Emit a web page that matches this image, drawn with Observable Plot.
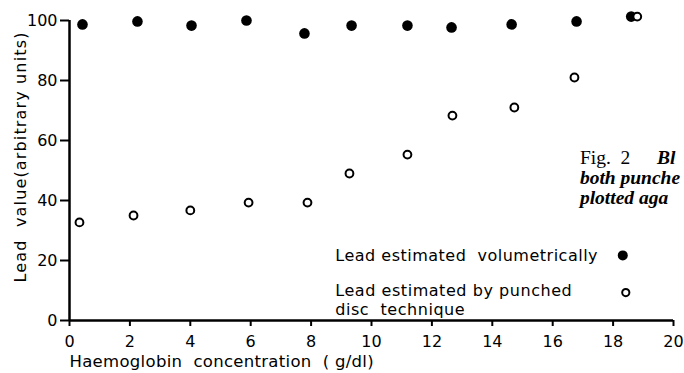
<!DOCTYPE html>
<html>
<head>
<meta charset="utf-8">
<script src="https://cdn.jsdelivr.net/npm/d3@7"></script>
<script src="https://cdn.jsdelivr.net/npm/@observablehq/plot@0.6"></script>
<style>
  html, body { margin: 0; padding: 0; background: #fff; overflow: hidden; }
  #chart { width: 684px; height: 373px; overflow: hidden; }
</style>
</head>
<body>
<div id="chart"></div>
<script>
// Haemoglobin concentration (g/dl)
const volumetricX = [0.43, 2.25, 4.04, 5.86, 7.78, 9.34, 11.19, 12.65, 14.64, 16.79, 18.6];
const volumetricY = [98.7, 99.7, 98.3, 100.0, 95.7, 98.3, 98.3, 97.7, 98.7, 99.7, 101.3];
const punchedX = [0.33, 2.12, 4.0, 5.93, 7.88, 9.27, 11.19, 12.68, 14.73, 16.72, 18.8];
const punchedY = [32.7, 35.0, 36.7, 39.3, 39.3, 49.0, 55.3, 68.3, 71.0, 81.0, 101.3];

const xTicks = [0, 2, 4, 6, 8, 10, 12, 14, 16, 18, 20];
const yTicks = [0, 20, 40, 60, 80, 100];

const NB = "\u00a0";
const xTitle = "Haemoglobin" + NB + " concentration" + NB + " (" + NB + "g/dl)";
const yTitle = "Lead" + NB + " value(arbitrary" + NB + "units)";

const legendLabels = [
  "Lead estimated" + NB + " volumetrically",
  "Lead estimated by punched\ndisc" + NB + " technique"
];
const captionHead = "Fig." + NB + NB + "2";
const captionHeadItalic = "Bl";
const captionBody = "both punche\nplotted aga";

const volumetric = volumetricX.map((x, i) => ({x, y: volumetricY[i]}));
const punched = punchedX.map((x, i) => ({x, y: punchedY[i]}));

const sans = "'DejaVu Sans', sans-serif";
const serif = "'Liberation Serif', 'DejaVu Serif', serif";

const legendText = [
  {x: 8.8, y: 21.7, t: legendLabels[0]},
  {x: 8.8, y: 7.0, t: legendLabels[1]}
];

const chart = Plot.plot({
  width: 684,
  height: 373,
  marginLeft: 69,
  marginRight: 11,
  marginTop: 20,
  marginBottom: 53,
  style: {fontFamily: sans, fontSize: "16px", color: "#000", background: "#fff", overflow: "hidden"},
  x: {domain: [0, 20]},
  y: {domain: [0, 100]},
  marks: [
    Plot.axisX({ticks: xTicks, tickSize: 6, tickPadding: 9, tickFormat: d => d, fontSize: 16,
      label: null, strokeWidth: 2}),
    Plot.axisY({ticks: yTicks, tickSize: 9, tickPadding: 3, tickFormat: d => d, fontSize: 16,
      label: null, strokeWidth: 2}),
    Plot.text([{x: -1.62, y: 54.5, t: yTitle}], {x: "x", y: "y", text: "t", rotate: -90, fontSize: 16, fill: "#000", clip: false}),
    Plot.text([xTitle], {frameAnchor: "bottom-left", text: d => d, textAnchor: "start", dy: 46, fontSize: 16.5, fill: "#000"}),
    Plot.ruleX([0], {stroke: "#000", strokeWidth: 2.5}),
    Plot.ruleY([0], {stroke: "#000", strokeWidth: 2.5}),
    Plot.dot(volumetric, {x: "x", y: "y", r: 5.3, fill: "#000", stroke: "none", clip: false}),
    Plot.dot(punched, {x: "x", y: "y", r: 3.9, fill: "#fff", stroke: "#000", strokeWidth: 2, clip: false}),
    Plot.text(legendText, {x: "x", y: "y", text: "t", textAnchor: "start", fontSize: 16, lineHeight: 1.15, fill: "#000"}),
    Plot.dot([{x: 18.32, y: 21.7}], {x: "x", y: "y", r: 5, fill: "#000"}),
    Plot.dot([{x: 18.42, y: 9.3}], {x: "x", y: "y", r: 3.6, fill: "#fff", stroke: "#000", strokeWidth: 2}),
    Plot.text([{x: 16.9, y: 54.3, t: captionHead}], {x: "x", y: "y", text: "t", textAnchor: "start", fontSize: 19.5, fontFamily: serif, fill: "#000"}),
    Plot.text([{x: 19.45, y: 54.3, t: captionHeadItalic}], {x: "x", y: "y", text: "t", textAnchor: "start", fontSize: 19.5, fontFamily: serif, fontStyle: "italic", fontWeight: "bold", fill: "#000"}),
    Plot.text([{x: 16.9, y: 44.3, t: captionBody}], {x: "x", y: "y", text: "t", textAnchor: "start", fontSize: 19.5, lineHeight: 1.05, fontFamily: serif, fontStyle: "italic", fontWeight: "bold", fill: "#000"})
  ]
});
document.getElementById("chart").append(chart);

// letter spacing to match the wide-set lettering of the original figure
const spacing = new Map([
  [yTitle, "1.15px"],
  [xTitle, "0.3px"],
  [legendLabels[0], "0.5px"],
  [legendLabels[1].replace("\n", ""), "0.55px"]
]);
d3.select(chart).selectAll("text").each(function () {
  const s = spacing.get(this.textContent);
  if (s) this.style.letterSpacing = s;
});
</script>
</body>
</html>
